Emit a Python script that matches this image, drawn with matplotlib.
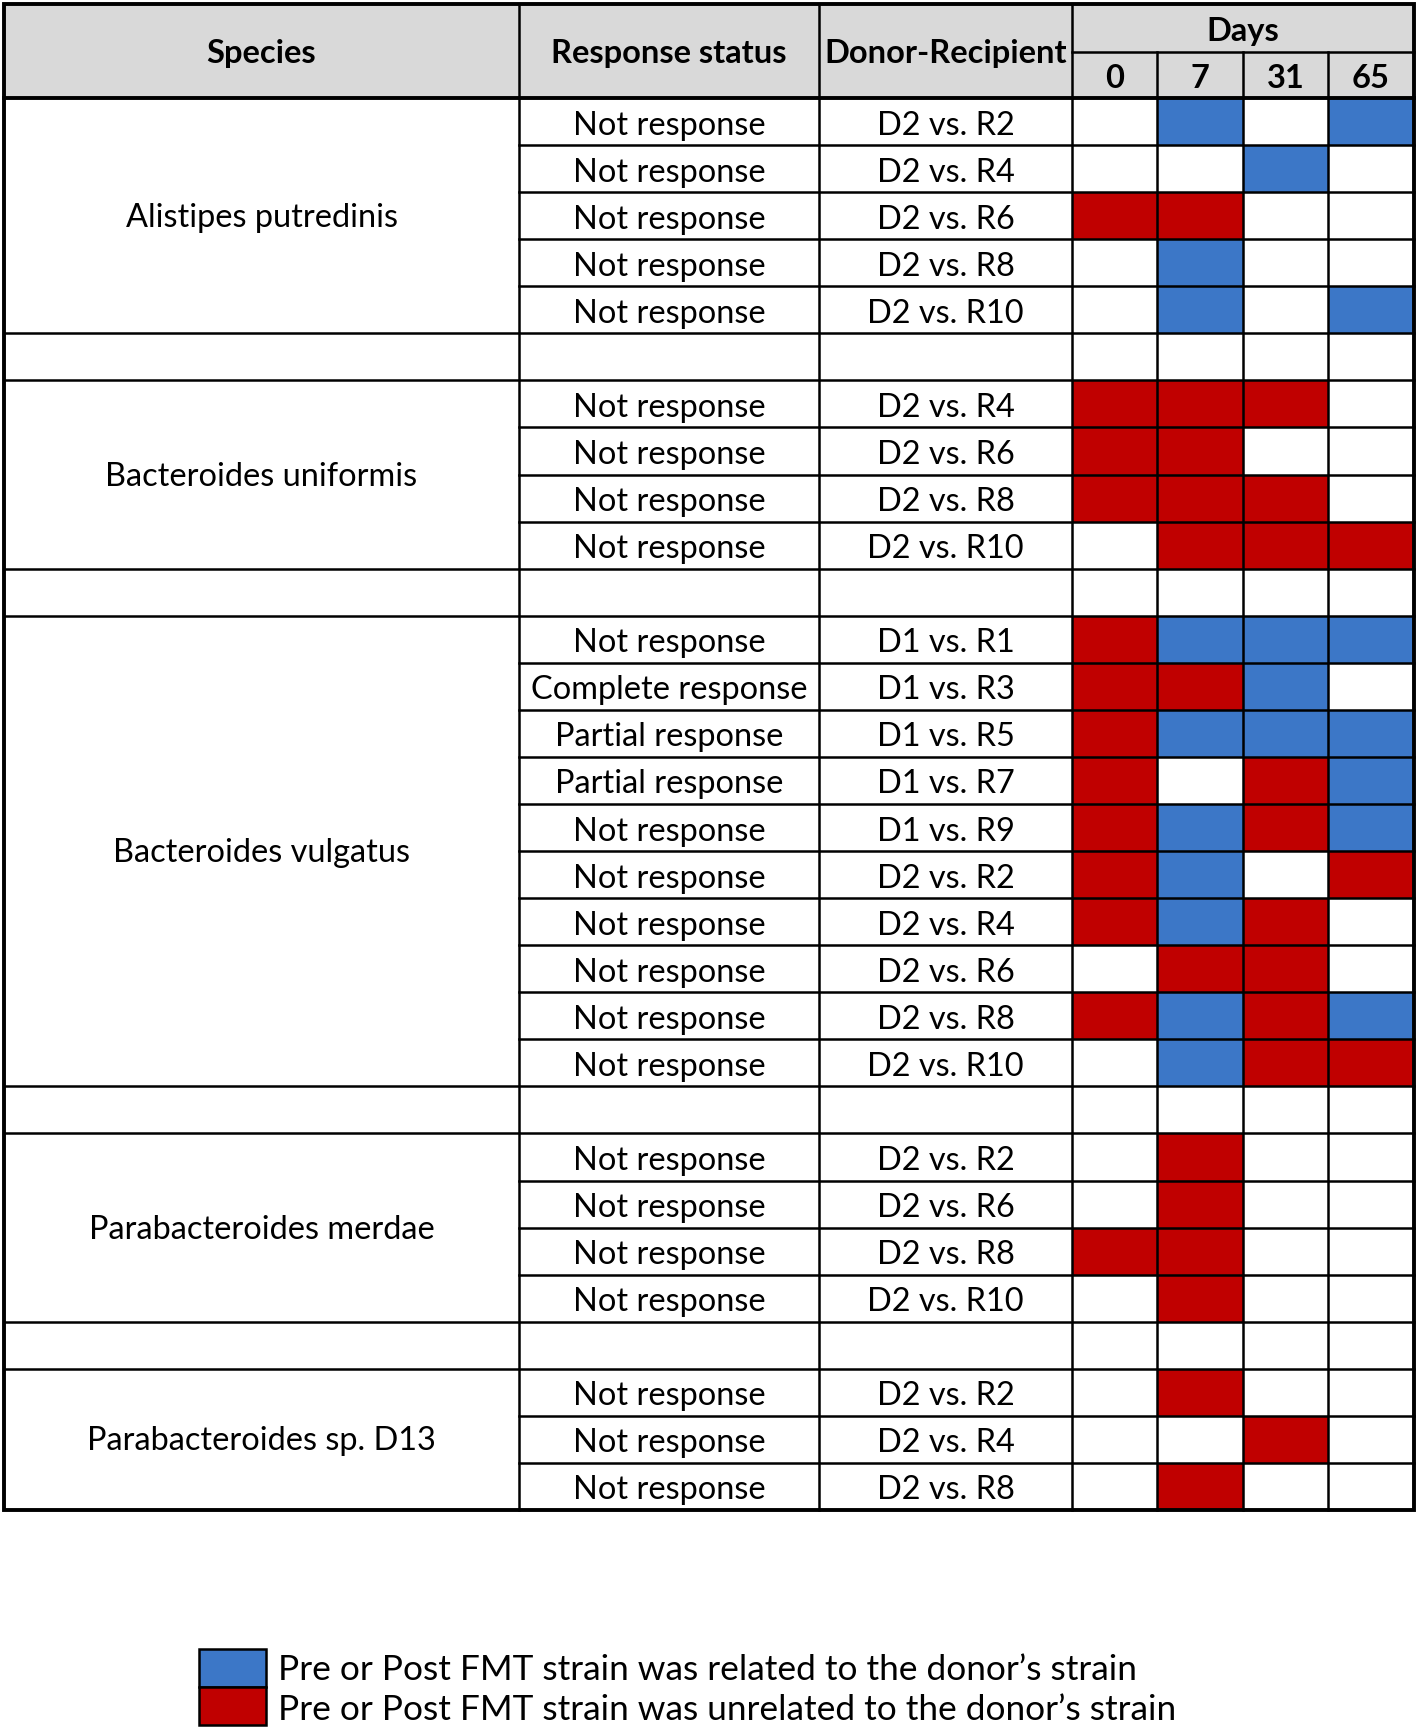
import matplotlib
matplotlib.use("Agg")
import matplotlib.pyplot as plt
from matplotlib.patches import Rectangle

# --- data -------------------------------------------------------------
species = ["Alistipes putredinis", "Bacteroides uniformis", "Bacteroides vulgatus",
           "Parabacteroides merdae", "Parabacteroides sp. D13"]

response = [
    ["Not response"] * 5,
    ["Not response"] * 4,
    ["Not response", "Complete response", "Partial response", "Partial response",
     "Not response", "Not response", "Not response", "Not response", "Not response",
     "Not response"],
    ["Not response"] * 4,
    ["Not response"] * 3,
]

pairs = [
    ["D2 vs. R2", "D2 vs. R4", "D2 vs. R6", "D2 vs. R8", "D2 vs. R10"],
    ["D2 vs. R4", "D2 vs. R6", "D2 vs. R8", "D2 vs. R10"],
    ["D1 vs. R1", "D1 vs. R3", "D1 vs. R5", "D1 vs. R7", "D1 vs. R9",
     "D2 vs. R2", "D2 vs. R4", "D2 vs. R6", "D2 vs. R8", "D2 vs. R10"],
    ["D2 vs. R2", "D2 vs. R6", "D2 vs. R8", "D2 vs. R10"],
    ["D2 vs. R2", "D2 vs. R4", "D2 vs. R8"],
]

days = ["0", "7", "31", "65"]

# B = related to donor strain, R = unrelated, - = nothing
calls = [
    ["-B-B", "--B-", "RR--", "-B--", "-B-B"],
    ["RRR-", "RR--", "RRR-", "-RRR"],
    ["RBBB", "RRB-", "RBBB", "R-RB", "RBRB", "RB-R", "RBR-", "-RR-", "RBRB", "-BRR"],
    ["-R--", "-R--", "RR--", "-R--"],
    ["-R--", "--R-", "-R--"],
]

legend_labels = ["Pre or Post FMT strain was related to the donor\u2019s strain",
                 "Pre or Post FMT strain was unrelated to the donor\u2019s strain"]

BLUE = "#3c77c7"
RED = "#c00000"
GRAY = "#d9d9d9"
colors = {"B": BLUE, "R": RED}

# --- layout (pixel space) ---------------------------------------------
W, H = 1418, 1730
col_x = [4, 519, 819, 1072, 1157, 1243, 1328, 1414]
top, split, head_bot = 4, 52, 98
n_rows = sum(len(p) for p in pairs) + len(pairs) - 1
row_h = (1510 - head_bot) / n_rows
bottom = head_bot + n_rows * row_h
thin, thick = 1.8, 2.8
FONT = "Lato"
fs = 23.4
fs_head = 23.5
fs_leg = 25.4

fig = plt.figure(figsize=(W / 100, H / 100), dpi=100)
ax = fig.add_axes([0, 0, 1, 1])
ax.set_xlim(0, W)
ax.set_ylim(H, 0)
ax.axis("off")

# header
ax.add_patch(Rectangle((col_x[0], top), col_x[-1] - col_x[0], head_bot - top,
                       facecolor=GRAY, edgecolor="none"))
hdr = [("Species", 0, 1), ("Response status", 1, 2), ("Donor-Recipient", 2, 3)]
for txt, a, b in hdr:
    ax.text((col_x[a] + col_x[b]) / 2, (top + head_bot) / 2 + 2, txt, ha="center", va="center",
            fontsize=fs_head, fontweight="bold", family=FONT)
ax.text((col_x[3] + col_x[7]) / 2, (top + split) / 2 + 3, "Days", ha="center", va="center",
        fontsize=fs_head, fontweight="bold", family=FONT)
for j, d in enumerate(days):
    ax.text((col_x[3 + j] + col_x[4 + j]) / 2, (split + head_bot) / 2 + 4, d, ha="center",
            va="center", fontsize=fs_head, fontweight="bold", family=FONT)
for x in col_x[1:4]:
    ax.plot([x, x], [top, head_bot], color="black", lw=thin)
for x in col_x[4:7]:
    ax.plot([x, x], [split, head_bot], color="black", lw=thin)
ax.plot([col_x[3], col_x[7]], [split, split], color="black", lw=thin)

# body
r = 0
for g, sp in enumerate(species):
    g_top = head_bot + r * row_h
    for i, pr in enumerate(pairs[g]):
        y0 = head_bot + r * row_h
        yc = y0 + row_h / 2 + 4
        ax.text((col_x[1] + col_x[2]) / 2, yc, response[g][i], ha="center", va="center",
                fontsize=fs, family=FONT)
        ax.text((col_x[2] + col_x[3]) / 2, yc, pr, ha="center", va="center",
                fontsize=fs, family=FONT)
        for j, c in enumerate(calls[g][i]):
            if c in colors:
                ax.add_patch(Rectangle((col_x[3 + j], y0), col_x[4 + j] - col_x[3 + j], row_h,
                                       facecolor=colors[c], edgecolor="none"))
        if i > 0:
            ax.plot([col_x[1], col_x[7]], [y0, y0], color="black", lw=thin)
        r += 1
    g_bot = head_bot + r * row_h
    ax.text((col_x[0] + col_x[1]) / 2, (g_top + g_bot) / 2 + 2, sp, ha="center", va="center",
            fontsize=fs, family=FONT)
    if g < len(species) - 1:
        ax.plot([col_x[0], col_x[7]], [g_bot, g_bot], color="black", lw=thin)
        r += 1
        yb = head_bot + r * row_h
        ax.plot([col_x[0], col_x[7]], [yb, yb], color="black", lw=thin)

for x in col_x[1:7]:
    ax.plot([x, x], [head_bot, bottom], color="black", lw=thin)
ax.plot([col_x[0], col_x[7]], [head_bot, head_bot], color="black", lw=thick)
ax.add_patch(Rectangle((col_x[0], top), col_x[-1] - col_x[0], bottom - top,
                       facecolor="none", edgecolor="black", lw=thick))

# legend
lg_x, lg_w, lg_y, lg_h = 199, 67, 1649, 38
for k, (lab, c) in enumerate(zip(legend_labels, [BLUE, RED])):
    y0 = lg_y + k * lg_h
    ax.add_patch(Rectangle((lg_x, y0), lg_w, lg_h, facecolor=c, edgecolor="black", lw=thin))
    ax.text(lg_x + lg_w + 12, y0 + lg_h / 2 + 2 + 2 * k, lab, ha="left", va="center",
            fontsize=fs_leg, family=FONT)

fig.savefig("out.png", dpi=100)
